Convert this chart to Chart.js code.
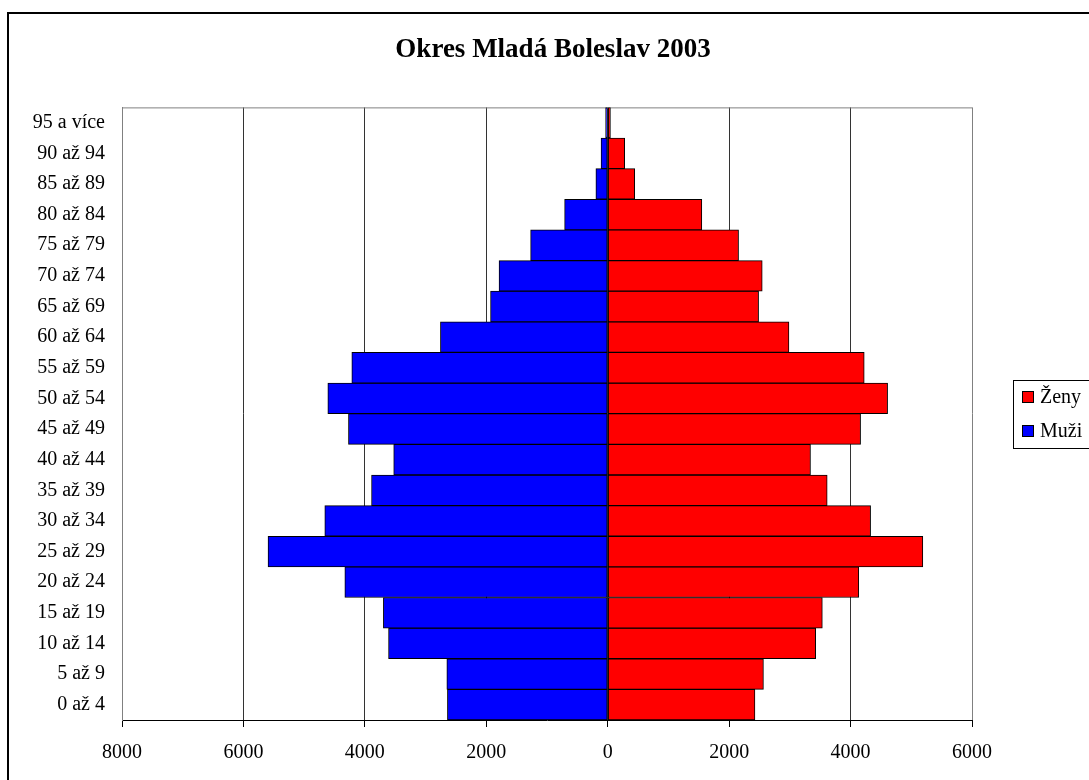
<!DOCTYPE html>
<html>
<head>
<meta charset="utf-8">
<script src="https://cdn.jsdelivr.net/npm/chart.js@4.4.1/dist/chart.umd.min.js"></script>
<style>
  html, body { margin: 0; padding: 0; background: #fff; overflow: hidden; }
  #wrap { position: relative; width: 1089px; height: 780px; overflow: hidden; }
  #frame { position: absolute; left: 7px; top: 12px; width: 1100px; height: 800px; border: 2px solid #000; }
  #pyramid { position: absolute; left: 0; top: 0; }
</style>
</head>
<body>
<div id="wrap">
  <div id="frame"></div>
  <canvas id="pyramid" width="1089" height="780"></canvas>
</div>
<script>
// age groups, youngest first (axis is reversed so 0 až 4 sits at the bottom)
const ageGroups = ['0 až 4', '5 až 9', '10 až 14', '15 až 19', '20 až 24', '25 až 29', '30 až 34',
    '35 až 39', '40 až 44', '45 až 49', '50 až 54', '55 až 59', '60 až 64', '65 až 69',
    '70 až 74', '75 až 79', '80 až 84', '85 až 89', '90 až 94', '95 a více'];
const muzi = [2640, 2650, 3610, 3695, 4330, 5595, 4660, 3890, 3525, 4270, 4610, 4215, 2755, 1930, 1790, 1270, 710, 195, 110, 35];
const zeny = [2425, 2565, 3425, 3535, 4135, 5190, 4330, 3615, 3340, 4165, 4610, 4225, 2985, 2485, 2545, 2155, 1550, 445, 280, 45];
const xTickValues = [-8000, -6000, -4000, -2000, 0, 2000, 4000, 6000];

const SERIF = '"Liberation Serif", "Times New Roman", serif';

// legend with a frame, like the Excel original
const boxLegend = {
    id: 'boxLegend',
    afterDraw(chart) {
        const { ctx, chartArea } = chart;
        const left = chartArea.right + 41;
        const rowH = 34;
        const items = chart.data.datasets;
        const top = Math.round((chartArea.top + chartArea.bottom) / 2 - rowH * items.length / 2);
        ctx.save();
        ctx.lineWidth = 1;
        ctx.strokeStyle = '#000';
        ctx.strokeRect(left + 0.5, top + 0.5, 140, rowH * items.length);
        ctx.font = '20px ' + SERIF;
        ctx.textBaseline = 'middle';
        items.forEach((ds, i) => {
            const y = top + rowH * i + rowH / 2;
            ctx.fillStyle = ds.backgroundColor;
            ctx.fillRect(left + 9, Math.round(y - 6), 12, 12);
            ctx.strokeRect(left + 9.5, Math.round(y - 6) + 0.5, 11, 11);
            ctx.fillStyle = '#000';
            ctx.fillText(ds.label, left + 27, y + 1);
        });
        ctx.restore();
    }
};

// grey line along the top of the plot area
const plotTop = {
    id: 'plotTop',
    beforeDatasetsDraw(chart) {
        const { ctx, chartArea } = chart;
        ctx.save();
        ctx.strokeStyle = '#808080';
        ctx.lineWidth = 1;
        ctx.beginPath();
        ctx.moveTo(chartArea.left, chartArea.top + 0.5);
        ctx.lineTo(chartArea.right, chartArea.top + 0.5);
        ctx.stroke();
        ctx.restore();
    }
};

const ctx = document.getElementById('pyramid').getContext('2d');
new Chart(ctx, {
    type: 'bar',
    data: {
        labels: ageGroups,
        datasets: [{
            label: 'Ženy',
            data: zeny,
            backgroundColor: '#ff0000',
            borderColor: '#000',
            borderWidth: 1,
            borderSkipped: false,
            categoryPercentage: 1,
            barPercentage: 1
        }, {
            label: 'Muži',
            data: muzi.map(v => -v),
            backgroundColor: '#0000ff',
            borderColor: '#000',
            borderWidth: 1,
            borderSkipped: false,
            categoryPercentage: 1,
            barPercentage: 1
        }]
    },
    options: {
        indexAxis: 'y',
        responsive: false,
        animation: false,
        devicePixelRatio: 1,
        layout: { padding: { left: 17, right: 0, top: 0, bottom: 0 } },
        scales: {
            x: {
                type: 'linear',
                stacked: true,
                min: -8000,
                max: 6000,
                afterBuildTicks: s => { s.ticks = xTickValues.map(v => ({ value: v })); },
                afterFit: s => { s.height = 60; },
                grid: {
                    color: c => (c.tick && (c.tick.value === -8000 || c.tick.value === 6000)) ? '#808080' : '#333',
                    tickColor: '#000',
                    tickLength: 7
                },
                border: { display: true, color: '#000', width: 1 },
                ticks: {
                    callback: v => Math.abs(v),
                    font: { family: SERIF, size: 20 },
                    color: '#000',
                    padding: 14,
                    maxRotation: 0,
                    autoSkip: false
                }
            },
            y: {
                stacked: true,
                reverse: true,
                afterFit: s => { s.width = 105; },
                grid: { display: false, drawTicks: false },
                border: { display: true, color: '#808080' },
                ticks: {
                    font: { family: SERIF, size: 20 },
                    color: '#000',
                    padding: 17,
                    autoSkip: false
                }
            },
            legendSpace: {
                type: 'linear',
                position: 'right',
                grid: { display: false },
                border: { display: false },
                ticks: { display: false },
                afterFit: s => { s.width = 117; }
            }
        },
        plugins: {
            legend: { display: false },
            tooltip: { enabled: false },
            title: {
                display: true,
                text: 'Okres Mladá Boleslav 2003',
                color: '#000',
                font: { family: SERIF, size: 27, weight: 'bold' },
                padding: { top: 34, bottom: 41 }
            }
        }
    },
    plugins: [plotTop, boxLegend]
});
</script>
</body>
</html>
